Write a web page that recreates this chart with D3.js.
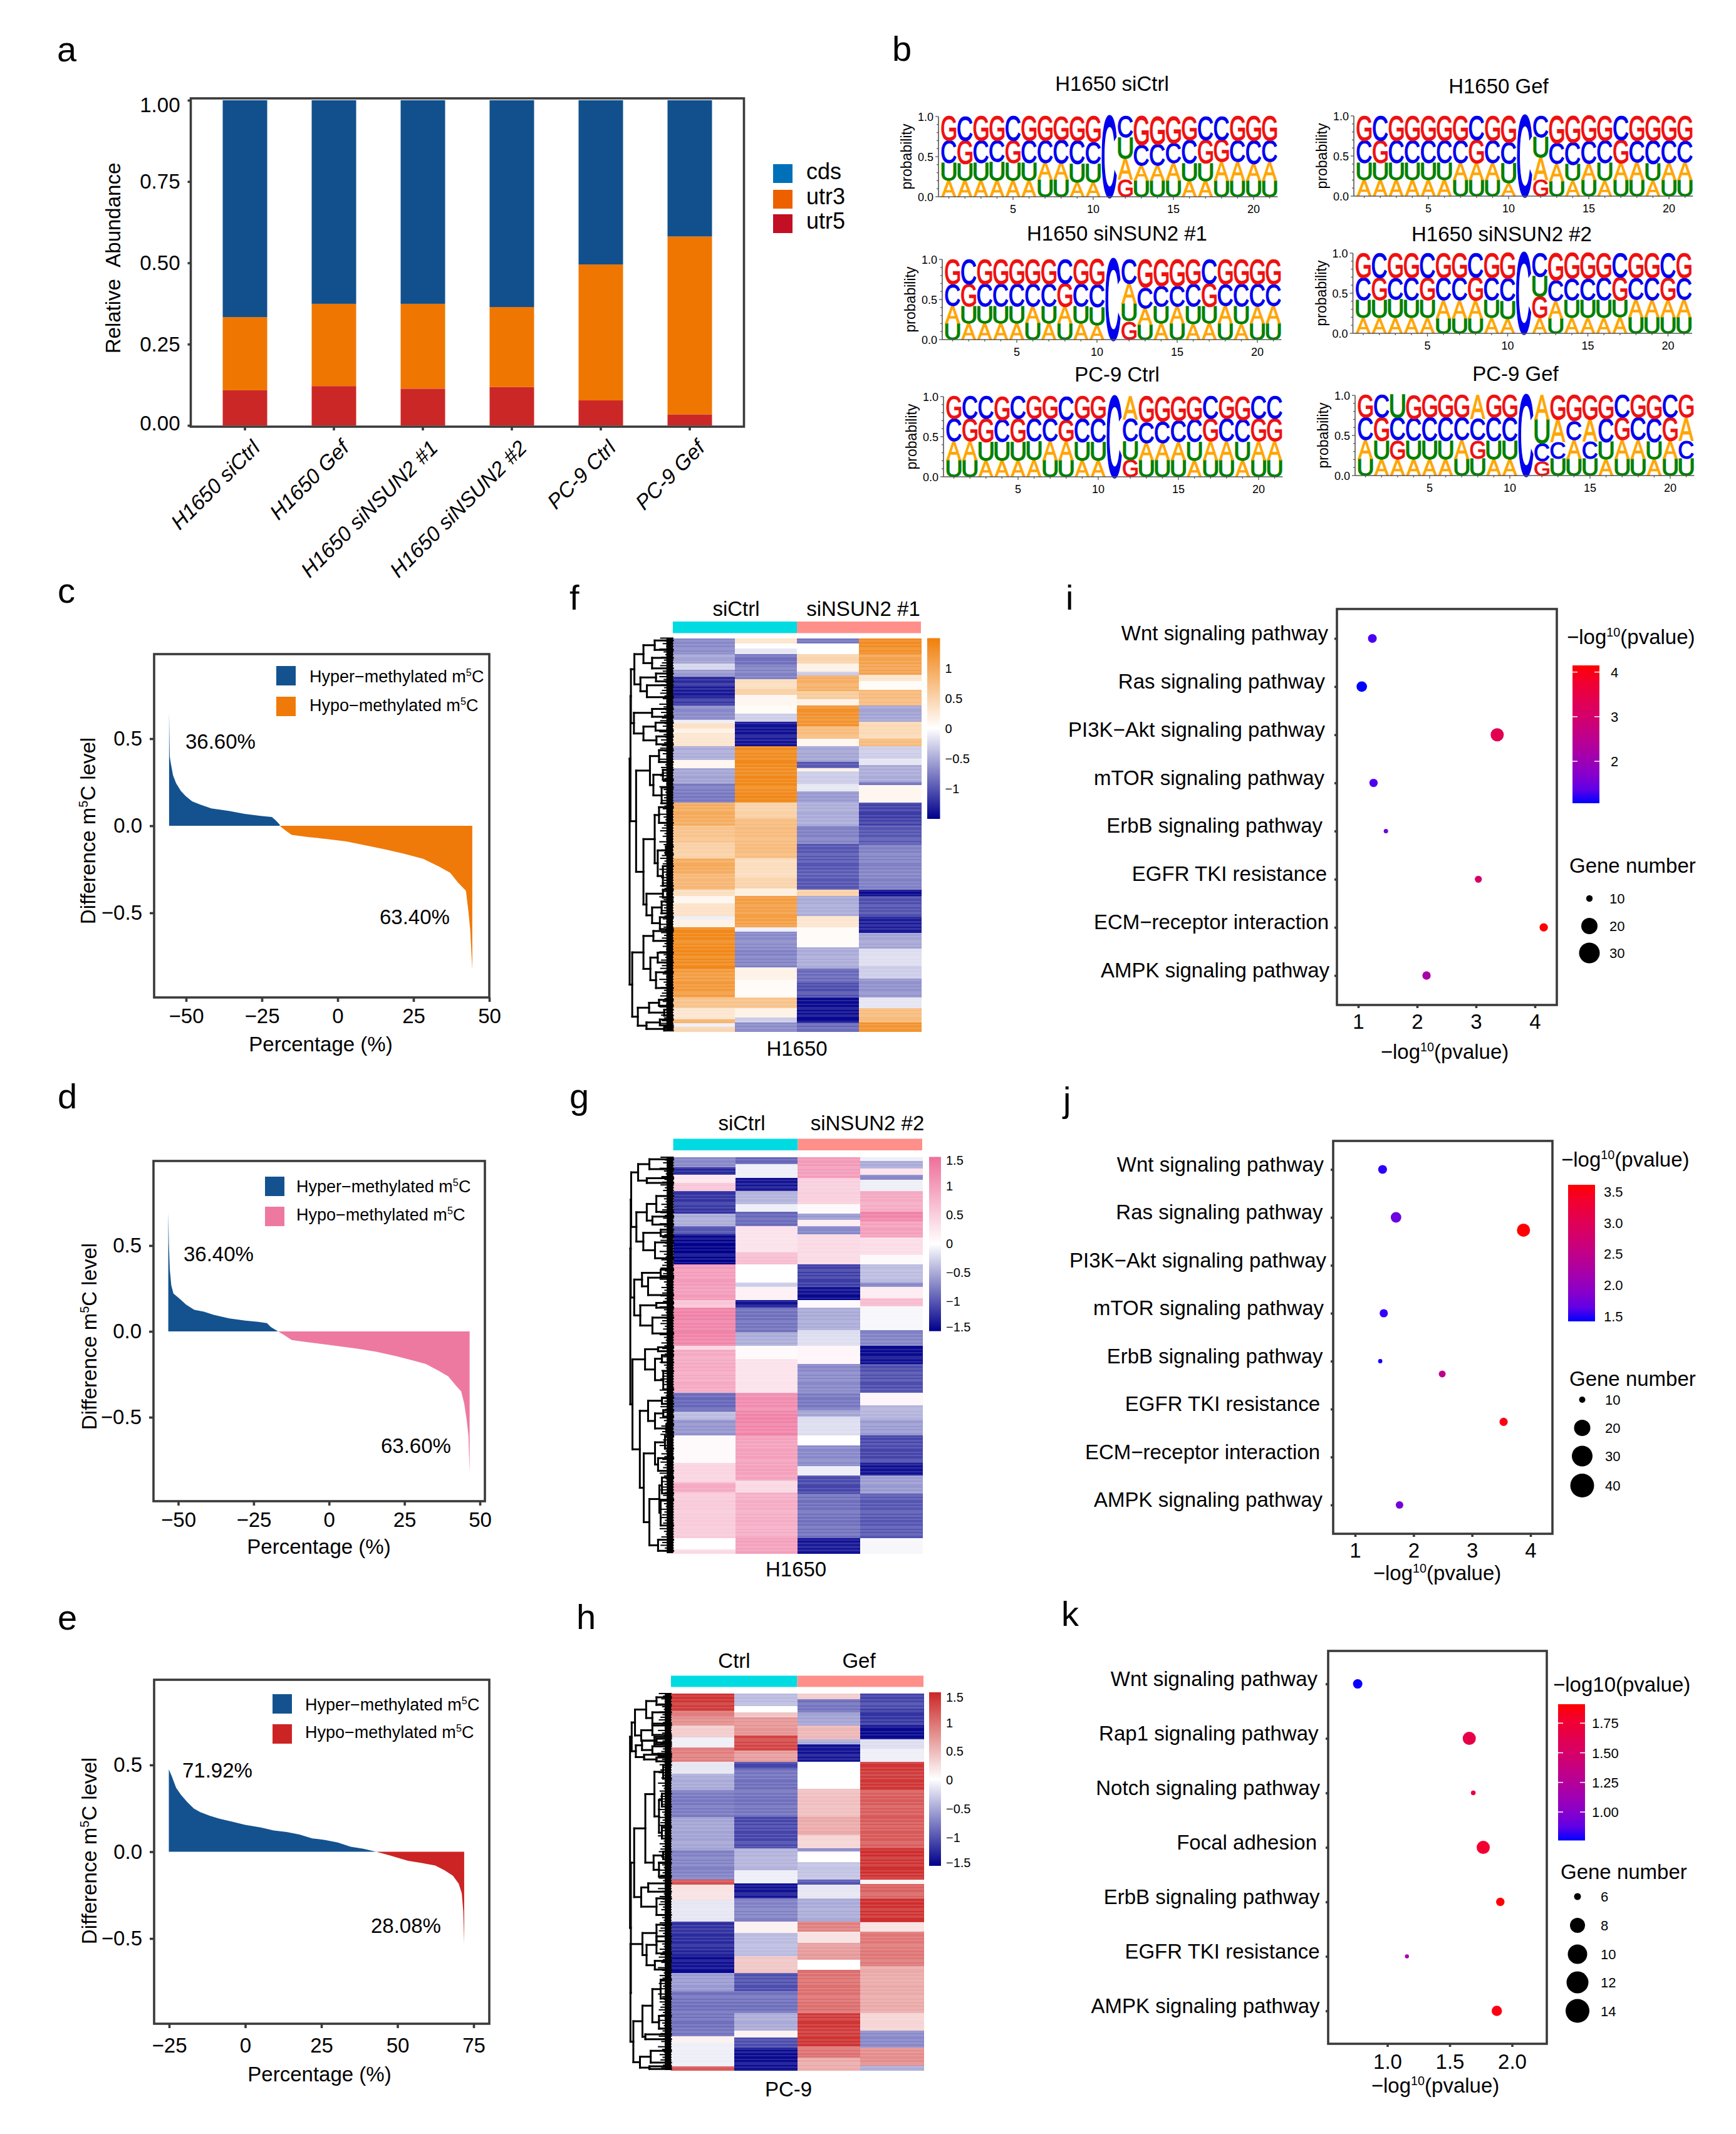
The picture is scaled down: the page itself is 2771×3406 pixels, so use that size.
<!DOCTYPE html>
<html>
<head>
<meta charset="utf-8">
<script src="https://d3js.org/d3.v7.min.js"></script>
<style>
  body { margin: 0; background: #fff; }
  text { font-family: "Liberation Sans", Arial, sans-serif; fill: #000; }
</style>
</head>
<body>
<svg id="fig" width="2771" height="3406"></svg>
<script>
// a: stacked bars
const samples = ["H1650 siCtrl", "H1650 Gef", "H1650 siNSUN2 #1", "H1650 siNSUN2 #2", "PC-9 Ctrl", "PC-9 Gef"];
const utr5 = [0.108, 0.121, 0.113, 0.118, 0.077, 0.034];
const utr3 = [0.225, 0.253, 0.261, 0.246, 0.418, 0.547];
const cds = [0.667, 0.626, 0.626, 0.636, 0.505, 0.419];

// b: sequence logos, letters from the bottom of the stack up, b1..b3 are the stack boundaries
const logoTitles = ["H1650 siCtrl", "H1650 Gef", "H1650 siNSUN2 #1", "H1650 siNSUN2 #2", "PC-9 Ctrl", "PC-9 Gef"];
const logoRows = [
  ["AAAAAAUUAA-GUUUAAUUUU", "UUUUUUAAUU-AAAAUUAAAA", "CGCCGCCCCC-UCCCCGGCCC", "GCGGCGGGGGCCGGGGCCGGG"],
  ["AAAAAAUUUA-GUAUAUUAUU", "UUUUUUAAAU-AAUAUAAUAA", "CGCCCCCGCC-UCCCCGCCCC", "GCGGGGGCGGCCGGGGCGGGG"],
  ["UAAAAUAUAA-GUAUAAUAUU", "AUUUUAUAUU-UAUAUUAUAA", "CGCCCCCGCC-ACCCCGCCCC", "GCGGGGGCGGCCGGGGCGGGG"],
  ["AAAAAUUUAA-AUAAAAUUUU", "UUUUUAAAUU-GAUUUUAAAA", "CGCCGCCGCC-UCCCCGCCGC", "GCGGCGGCGGCCGGGGCGGCG"],
  ["UUAAAAUUAA-GUUUAUUAUU", "AAUUUUAAUU-UAAAUAAUAA", "CGGCGCCGCC-CCCCCGCCGG", "GCCGCGGCGGCAGGGGCGGCC"],
  ["UAAAAAUUAA-GUUUAUUAUU", "AUGUUUAGUU-CCACUAAUAC", "CGCCCCCCCC-UACACGCCGA", "GCUGGGGAGGCAGGGGCGGCG"]
];
const logoB1 = [
  [.2,.2,.2,.2,.2,.2,.215,.215,.18,.18,0,.215,.2,.2,.2,.195,.195,.2,.2,.2,.2],
  [.2,.2,.2,.2,.2,.2,.2,.2,.2,.16,0,.2,.19,.19,.2,.19,.2,.2,.19,.2,.2],
  [.2,.2,.2,.2,.2,.21,.2,.2,.2,.18,0,.23,.19,.2,.2,.19,.2,.2,.19,.2,.2],
  [.19,.19,.19,.19,.19,.19,.19,.19,.19,.18,0,.19,.19,.19,.19,.19,.2,.2,.2,.2,.2],
  [.21,.21,.2,.2,.2,.21,.21,.21,.2,.2,0,.21,.21,.21,.21,.2,.21,.21,.2,.21,.21],
  [.21,.2,.2,.2,.2,.2,.21,.21,.2,.2,0,.175,.21,.21,.21,.2,.21,.21,.2,.21,.21]
];
const logoB2 = [
  [.42,.41,.42,.43,.42,.42,.42,.42,.41,.41,0,.475,.39,.385,.42,.42,.42,.43,.43,.41,.43],
  [.41,.41,.41,.41,.41,.41,.41,.41,.41,.4,0,.48,.4,.39,.4,.41,.41,.42,.4,.41,.42],
  [.42,.41,.41,.41,.41,.41,.41,.41,.41,.4,0,.45,.39,.41,.41,.41,.41,.42,.41,.41,.42],
  [.41,.41,.42,.41,.41,.41,.41,.41,.41,.4,0,.46,.4,.41,.41,.41,.41,.42,.41,.41,.42],
  [.44,.44,.43,.43,.43,.44,.44,.44,.43,.43,0,.44,.42,.42,.43,.43,.44,.44,.43,.44,.44],
  [.44,.43,.44,.43,.43,.43,.44,.44,.43,.43,0,.4,.42,.44,.43,.42,.44,.44,.42,.43,.44]
];
const logoB3 = [
  [.695,.7,.695,.695,.695,.695,.695,.71,.7,.68,0,.735,.645,.655,.67,.71,.71,.71,.695,.695,.695],
  [.69,.69,.69,.69,.69,.69,.69,.7,.69,.67,0,.73,.66,.67,.68,.69,.7,.69,.69,.69,.69],
  [.69,.69,.69,.69,.69,.69,.69,.7,.69,.68,0,.7,.65,.67,.67,.69,.7,.69,.69,.69,.69],
  [.69,.69,.69,.69,.69,.69,.69,.7,.69,.68,0,.71,.66,.68,.68,.69,.7,.69,.69,.69,.69],
  [.72,.72,.72,.71,.72,.72,.72,.71,.72,.72,0,.72,.68,.69,.7,.71,.72,.72,.71,.72,.72],
  [.72,.72,.72,.71,.72,.72,.72,.71,.72,.72,0,.7,.7,.68,.7,.71,.72,.72,.71,.72,.72]
];

// c, d, e: ranked difference curves [percentage, difference]
const cHyper = [[-55.6,.651],[-55.4,.40],[-55.1,.365],[-54.3,.29],[-53.3,.245],[-51.7,.2],[-50.1,.17],[-48,.14],[-45.4,.122],[-41.7,.10],[-35.9,.085],[-30.7,.068],[-25.4,.057],[-21.7,.05],[-20.4,.031],[-19.1,.006]];
const cHypo = [[-18.9,-.004],[-17,-.03],[-15.2,-.052],[-9.7,-.065],[-3.4,-.076],[2.9,-.09],[9.2,-.112],[15.5,-.135],[21.8,-.16],[28.2,-.19],[33.4,-.234],[37.1,-.27],[39.7,-.326],[42.3,-.373],[43.1,-.49],[43.7,-.594],[44.4,-.828]];
const dHyper = [[-53.3,.695],[-53.1,.51],[-52.8,.36],[-52.3,.268],[-51.6,.221],[-49.5,.19],[-47.4,.156],[-44.7,.126],[-41.5,.115],[-38.3,.097],[-33.1,.076],[-27.8,.063],[-23.5,.056],[-20.6,.048],[-19.3,.026],[-16.9,0]];
const dHypo = [[-16.9,0],[-15,-.02],[-12.4,-.05],[-8.7,-.059],[-3.4,-.071],[3,-.086],[9.3,-.10],[15.7,-.119],[22,-.143],[27.3,-.167],[32.1,-.19],[36.3,-.229],[39.5,-.262],[42.2,-.318],[43.8,-.349],[44.8,-.42],[45.6,-.513],[46.2,-.606],[46.6,-.82]];
const eHyper = [[-25.1,.475],[-24.1,.433],[-22.7,.368],[-21.1,.328],[-19,.285],[-16.9,.249],[-14.8,.228],[-11.7,.208],[-8.5,.19],[-4.3,.173],[-.1,.155],[5.1,.14],[9.3,.123],[13.6,.114],[17.8,.099],[22,.077],[26.2,.068],[30.4,.053],[34.6,.029],[38.8,.017],[43,0]];
const eHypo = [[43,0],[47.2,-.02],[53.5,-.052],[57.7,-.064],[62.4,-.079],[65.5,-.107],[68.2,-.138],[70.1,-.184],[71.1,-.239],[71.6,-.341],[71.9,-.53]];

// f, g, h: heatmap columns as runs of [end row %, z-score]
const fCols = [
  [[4,-.7],[6.5,-.55],[8,-.25],[9.8,-.6],[12,-1.25],[15,-1.35],[17.2,-1.2],[20.8,-.7],[21.6,-.1],[23,.35],[24.2,.15],[27.5,.3],[31,-.5],[33,.1],[37,-.55],[41.8,-.8],[47.7,1.0],[52,.7],[56,.55],[60,1.0],[64,.85],[65.6,.4],[67.5,.1],[70.7,.35],[71.6,-.1],[73.5,.15],[84,1.4],[91.4,1.2],[94.1,.7],[97,.3],[97.9,.9],[98.9,-.1],[100,.5]],
  [[1.3,.3],[2.7,0],[4.1,-.15],[7,-.85],[10.5,-.75],[12.8,.4],[14.4,.55],[17.2,.1],[19.2,.05],[21.2,-.3],[27.5,-1.4],[41.8,1.4],[45.8,.55],[56,.8],[60.8,.4],[63.6,.5],[65.6,.2],[73.5,1.15],[74.7,-.1],[79.5,-.7],[83.8,-.75],[87,.15],[91.4,.05],[94.1,.7],[96.5,.15],[97.7,-.3],[100,-.7]],
  [[1.3,-.8],[4.1,0],[6.5,.5],[8.5,.15],[9.5,-.3],[13.5,.95],[15.6,.6],[17.2,.15],[22.4,1.3],[25.5,.8],[27.5,.1],[31.5,-.55],[33,-1],[33.8,.15],[37,-.3],[39,-.15],[41.8,-.6],[47.7,-.5],[52.3,-.75],[64,-1],[65.6,.55],[70.7,-.5],[73.5,.3],[78.7,.05],[84,-.5],[87.8,-.9],[91.4,-1.05],[97.7,-1.45],[100,-.9]],
  [[4.1,1.35],[9.3,1.1],[10.9,.3],[13.2,.05],[17.2,.8],[21.2,-.55],[25.5,.45],[27.5,.8],[30.7,-.3],[32.3,-.15],[36.6,-.5],[37.4,-.8],[41.8,.1],[47.7,-1.15],[52.5,-1],[64,-.75],[65.6,-1.5],[71,-1.05],[75,-1.35],[79,-.55],[83.4,-.2],[86.6,-.3],[91.4,-.65],[94.1,-.15],[97.7,.8],[100,1.3]]
];
const gCols = [
  [[2.5,-.7],[4.5,-1.3],[6.5,.25],[8.6,.6],[14.2,-1.2],[17.4,-.5],[19.5,-1],[27.1,-1.5],[36,1.05],[37.9,.6],[47.6,1.3],[48.5,.4],[59.5,.9],[64.3,-.9],[66.3,-.4],[70.2,-.65],[77.2,.05],[82.1,.45],[84.7,.9],[96.2,.55],[99,0],[100,.4]],
  [[1.7,-.9],[5.3,-.1],[8.6,-1.4],[11.8,-.45],[13.8,-.1],[17.4,-.9],[19.5,.3],[24,.3],[27.1,.7],[31.6,0],[32.8,-.3],[36,.15],[37.9,-1.4],[44.1,-.85],[47.6,-.5],[51,.05],[59.5,.3],[63.9,1.2],[70.2,1.3],[81.7,1.0],[84.7,.4],[96.2,.85],[100,1.0]],
  [[5.3,1.05],[11.8,.5],[14.2,.05],[15.8,-.6],[17.4,.2],[19.5,-.7],[27.1,.4],[32.8,-1.15],[36,-1.45],[37.9,.05],[43.7,-.5],[47.6,-.2],[52.2,.1],[59.5,-.7],[63.9,-.8],[65.5,-.55],[70.3,-.2],[72.8,0],[78,-.7],[80.4,-.1],[84.9,-1.1],[96.2,-.85],[100,-1.4]],
  [[1,-.1],[2.9,-.5],[4.5,.3],[5.7,-.7],[8.6,-.1],[13.8,.9],[16.2,1.3],[20.3,1.0],[24.7,.35],[27.1,.05],[31.6,-.4],[32.8,-.7],[35.6,.2],[37.6,.7],[43.7,-.05],[47.6,-.75],[52.2,-1.45],[59.5,-1.05],[62.7,.1],[66.3,-.45],[70.2,-.6],[77.2,-1.1],[80.4,-1.4],[84.9,-.6],[96.2,-1.0],[100,-.05]]
];
const hCols = [
  [[4.6,1.4],[6.2,.9],[8.5,.8],[11.6,.35],[14.3,-.1],[18.2,.9],[21.3,-.15],[25.7,-.5],[32.8,-.8],[41.6,-.55],[49.5,-.75],[50.8,1.2],[54.8,.2],[60.5,-.15],[66.3,-1.25],[69.8,-1.3],[74.2,-1.45],[79,-.6],[85.6,-.85],[91,-.85],[92.7,.1],[99,-.1],[100,1.2]],
  [[3.3,-.4],[5,0],[6.3,.4],[11.2,.75],[15.2,1.3],[18.2,.7],[20,-1.1],[27.5,-.85],[32.8,-.85],[41.1,-1.1],[46.9,-.45],[50.4,-.1],[54.4,-1.4],[60.5,-.75],[63.6,.1],[69.8,-.4],[74.2,.4],[79,-1.05],[84.8,-.85],[89.6,-.5],[91.4,.1],[94,-1.05],[100,-1.45]],
  [[1.5,.35],[5,-.85],[8.5,-.55],[12.1,.5],[13.4,-.5],[18.2,-1.4],[25.3,0],[32.8,.45],[37.6,.6],[41.1,.3],[42,-.7],[44.7,0],[49.5,-.35],[50.8,-1],[54.4,-.15],[60.5,-.5],[63.2,.9],[66.3,.2],[70.7,.7],[73.3,0],[84.8,1.0],[93.6,1.4],[96.6,1.0],[100,.6]],
  [[4.1,-1.1],[8.5,-1.2],[12.1,-1.45],[14.7,-.2],[18.2,-.1],[25.7,1.4],[41.1,1.15],[49.5,1.45],[50.6,.1],[54.4,1.1],[60.8,1.45],[63.2,.2],[72.4,.95],[84.8,.6],[89.6,.3],[94,-.7],[98.9,.8],[100,-.5]]
];

// f, g, h: dendrograms as nested merges [height, child, child], a bare number is a leaf at row %
const fTree = [100,
  [98,
    [97,
      [89, [68,[42,.6,3],[48,5,7.7]], [75,[39,9,11],[60,12,15]]],
      [90, [48,18,20], [68,[40,21.5,23.5],[38,25,27]]]],
    [85,
      [53,[32,28.5,31.5],[45,[23,33.5,36],[26,38,42]]],
      [68, [42,[32,43,47],[35,[16,53,55],[23,58,63]]], [61,[23,64,66],[48,[26,67,70],[30,71,74]]]]]],
  [94,
    [68,[45,74.5,77],[52,[35,80,82.5],[39,85,89]]],
    [81,[55,[32,92,93.5],[20,94.5,96]],[61,[30,97,98.5],[20,99,99.8]]]]];
const gTree = [99,
  [98,
    [97,
      [81,[55,.5,3],[61,5.3,6.5]],
      [85,[61,[39,9.8,13.8],[48,15,17]],[69,[29,18.3,19.9],[42,21.5,25.5]]]],
    [90,
      [72,[29,28.4,30],[58,30.4,34.8]],
      [76,[39,36.8,38],[48,40.5,44.5]]]],
  [94,
    [65,[35,48,49],[42,[26,50,51.8],[23,54,58.6]]],
    [77,
      [58,[26,60.7,62.3],[42,[23,63.9,65.5],[16,67.5,69.5]]],
      [68,[42,[19,70.4,73.6],[35,76,79.2]],[55,[32,[26,80.9,84.9],[29,86.5,93]],[35,96.6,99.4]]]]]];
const hTree = [99,
  [95,
    [87,[60,[35,1,3],[45,5,8]],[72,[45,8.5,11],[40,11.5,13.5]]],
    [85,[70,[35,12,13],[45,14,16]],[65,[30,16,16.5],[35,17,18]]]],
  [97,
    [89,
      [62,[40,[19,19,22.6],[29,[22,26.6,30],[22,35.4,38.5]]],[42,[19,42,44],[29,45,48.6]]],
      [72,[55,50.4,52.6],[35,54.4,58.8]]],
    [98,
      [69,[35,61.4,65.8],[59,[35,64.5,69],[39,71,73.3]]],
      [91,[69,[45,[25,76,81],[29,85.6,89]],[62,90.5,91.8]],[75,[49,94.9,98],[52,99,99.7]]]]]];

// i, j, k: pathway enrichment
const iPathways = ["Wnt signaling pathway", "Ras signaling pathway", "PI3K\u2212Akt signaling pathway", "mTOR signaling pathway", "ErbB signaling pathway", "EGFR TKI resistance", "ECM\u2212receptor interaction", "AMPK signaling pathway"];
const iLogP = [1.24, 1.06, 3.36, 1.26, 1.47, 3.04, 4.15, 2.16];
const iGenes = [20, 24, 30, 19, 10, 16, 19, 19];
const iRows = [0, 1, 2, 3, 4, 5, 6, 7];
const jLogP = [1.47, 1.70, 3.88, 1.49, 1.43, 2.49, 3.54, 1.76];
const jGenes = [27, 32, 40, 25, 13, 21, 25, 23];
const jRows = [0, 1, 1.267, 3, 4, 4.267, 5.267, 7];
const kPathways = ["Wnt signaling pathway", "Rap1 signaling pathway", "Notch signaling pathway", "Focal adhesion", "ErbB signaling pathway", "EGFR TKI resistance", "AMPK signaling pathway"];
const kLogP = [.762, 1.657, 1.689, 1.769, 1.906, 1.157, 1.878];
const kGenes = [10, 14, 5, 14, 9, 4.3, 11];
const kRows = [0, 1, 2, 3, 4, 5, 6];

const DARK = "#3a3a3a";
const BLUE = "#14528f";
const MINUS = "\u2212";
const svg = d3.select("#fig");

function label(g, x, y, txt, size, anchor = "start") {
  return g.append("text").attr("x", x).attr("y", y).attr("font-size", size).attr("text-anchor", anchor).text(txt);
}

// text with one superscript in the middle
function supLabel(g, x, y, before, sup, after, size, anchor = "start") {
  const t = label(g, x, y, before, size, anchor);
  t.append("tspan").attr("dy", -size * 0.36).attr("font-size", size * 0.6).text(sup);
  t.append("tspan").attr("dy", size * 0.36).text(after);
  return t;
}

function frame(g, x0, y0, x1, y1) {
  g.append("rect").attr("x", x0).attr("y", y0).attr("width", x1 - x0).attr("height", y1 - y0)
    .attr("fill", "none").attr("stroke", DARK).attr("stroke-width", 3.6);
}

function styleAxis(sel, size) {
  sel.select(".domain").remove();
  sel.selectAll(".tick line").attr("stroke", DARK).attr("stroke-width", 3.6);
  sel.selectAll("text").attr("font-size", size).attr("font-family", '"Liberation Sans"').attr("fill", "#000");
}

[["a",91,98],["b",1424,97],["c",92,962],["d",92,1769],["e",92,2601],["f",909,973],["g",909,1769],["h",920,2600],["i",1701,973],["j",1697,1774],["k",1694,2595]]
  .forEach(d => label(svg, d[1], d[2], d[0], 56));

/* ---------- a ---------- */
function drawBars() {
  const g = svg.append("g");
  const x = d3.scaleBand().domain(samples).range([320, 1172]).paddingInner(0.5).paddingOuter(0.25);
  const y = d3.scaleLinear().domain([0, 1]).range([679, 160]);
  const rows = samples.map((s, i) => ({ s, utr5: utr5[i], utr3: utr3[i], cds: cds[i] }));
  const keys = ["utr5", "utr3", "cds"];
  const colors = { utr5: "#cc2727", utr3: "#ef7601", cds: "#11508c" };
  g.selectAll("g.layer").data(d3.stack().keys(keys)(rows)).join("g").attr("class", "layer")
    .attr("fill", d => colors[d.key])
    .selectAll("rect").data(d => d).join("rect")
    .attr("x", d => x(d.data.s)).attr("width", x.bandwidth())
    .attr("y", d => y(d[1])).attr("height", d => y(d[0]) - y(d[1]));
  frame(g, 304.5, 157, 1187.5, 681);

  const xa = g.append("g").attr("transform", "translate(0,681)").call(d3.axisBottom(x).tickSize(6));
  styleAxis(xa, 33.5);
  xa.selectAll("text").attr("font-style", "italic").attr("text-anchor", "end").attr("dy", 0).attr("y", 0)
    .attr("transform", "translate(26,36) rotate(-45)");

  const ya = g.append("g").attr("transform", "translate(304.5,0)")
    .call(d3.axisLeft(y).tickValues([0, .25, .5, .75, 1]).tickSize(5).tickPadding(12).tickFormat(d3.format(".2f")));
  styleAxis(ya, 33);
  const nudge = { 0: -4, 1: 7 };
  ya.selectAll("text").attr("dy", d => (nudge[d] || 0) + 11);

  label(g, 0, 0, "Relative\u00a0\u00a0Abundance", 33, "middle").attr("transform", "translate(192,412) rotate(-90)");
  [["cds", "#0070b8", 262, 286], ["utr3", "#ed6000", 303, 326], ["utr5", "#c30f23", 342, 365]].forEach(d => {
    g.append("rect").attr("x", 1234).attr("y", d[2]).attr("width", 31).attr("height", 30).attr("fill", d[1]);
    label(g, 1287, d[3], d[0], 36);
  });
}
drawBars();

/* ---------- b ---------- */
const letterColor = { G: "#ee1111", C: "#0000ee", U: "#008000", A: "#ffa500" };
const measure = document.createElement("canvas").getContext("2d");
measure.font = '100px "Liberation Sans"';

function drawLogo(i, x5, y1) {
  const g = svg.append("g");
  const step = 25.6;
  const x = d3.scaleLinear().domain([5, 20]).range([x5, x5 + 15 * step]);
  const y = d3.scaleLinear().domain([0, 1]).range([y1 + 128, y1]);
  const ax = x5 - 119;
  d3.range(21).forEach(p => {
    const b1 = logoB1[i][p], b2 = logoB2[i][p], b3 = logoB3[i][p];
    const stops = [[0, b1], [b1, b2], [b2, b3], [b3, 1]];
    logoRows[i].forEach((row, r) => {
      const ch = row[p];
      if (ch === "-") return;
      const m = measure.measureText(ch);
      const w = m.actualBoundingBoxLeft + m.actualBoundingBoxRight;
      const h = m.actualBoundingBoxAscent + m.actualBoundingBoxDescent;
      const top = y(stops[r][1]), bot = y(stops[r][0]);
      const bw = step * 0.9;
      const left = x(p + 1) - bw / 2;
      const sx = bw / w, sy = (bot - top) / h;
      g.append("text").attr("font-size", 100)
        .attr("transform", `translate(${left + m.actualBoundingBoxLeft * sx},${bot - m.actualBoundingBoxDescent * sy}) scale(${sx},${sy})`)
        .style("fill", letterColor[ch]).style("stroke", letterColor[ch]).style("stroke-width", 3).text(ch);
    });
  });
  const xa = g.append("g").attr("transform", `translate(0,${y1 + 128})`);
  xa.append("line").attr("x1", ax).attr("x2", x(21.5)).attr("stroke", "#555").attr("stroke-width", 1.6);
  xa.selectAll("line.minor").data(d3.range(1, 22)).join("line").attr("class", "minor")
    .attr("x1", d => x(d)).attr("x2", d => x(d)).attr("y2", d => d % 5 ? 3 : 5).attr("stroke", "#555").attr("stroke-width", 1.3);
  xa.selectAll("text").data([5, 10, 15, 20]).join("text").attr("x", d => x(d)).attr("y", 26)
    .attr("text-anchor", "middle").attr("font-size", 18).text(d => d);
  const ya = g.append("g").attr("transform", `translate(${ax},0)`);
  ya.append("line").attr("y1", y(0)).attr("y2", y(1)).attr("stroke", "#555").attr("stroke-width", 1.6);
  ya.selectAll("line.t").data(d3.range(0, 11)).join("line").attr("class", "t")
    .attr("y1", d => y(d / 10)).attr("y2", d => y(d / 10)).attr("x2", d => d % 5 ? -3 : -5).attr("stroke", "#555").attr("stroke-width", 1.3);
  ya.selectAll("text").data([0, 0.5, 1]).join("text").attr("x", -8).attr("y", d => y(d) + 7)
    .attr("text-anchor", "end").attr("font-size", 18).text(d => d3.format(".1f")(d));
  label(g, 0, 0, "probability", 23, "middle").attr("transform", `translate(${ax - 43},${y1 + 64}) rotate(-90)`);
}
const logoX5 = [1617, 2280, 1623, 2278.5, 1625, 2282];
const logoY1 = [186, 185, 414, 404, 633, 631];
logoTitles.forEach((t, i) => drawLogo(i, logoX5[i], logoY1[i]));
[[1775, 145], [2392, 149], [1783, 384], [2397, 385], [1783, 609], [2419, 608]]
  .forEach((p, i) => label(svg, p[0], p[1], logoTitles[i], 33, "middle"));

/* ---------- c d e ---------- */
function drawRank(o) {
  const g = svg.append("g");
  const x = d3.scaleLinear().domain(o.xDomain).range(o.xRange);
  const y = d3.scaleLinear().domain([-.5, .5]).range(o.yRange);
  const area = d3.area().x(d => x(d[0])).y0(y(0)).y1(d => y(d[1]));
  g.append("path").attr("d", area(o.hyper)).attr("fill", BLUE);
  g.append("path").attr("d", area(o.hypo)).attr("fill", o.color);
  frame(g, o.box[0], o.box[1], o.box[2], o.box[3]);
  const xa = g.append("g").attr("transform", `translate(0,${o.box[3]})`)
    .call(d3.axisBottom(x).tickValues(o.xTicks).tickSize(7).tickPadding(o.xPad).tickFormat(d3.format("d")));
  styleAxis(xa, 33);
  const ya = g.append("g").attr("transform", `translate(${o.box[0]},0)`)
    .call(d3.axisLeft(y).tickValues([-.5, 0, .5]).tickSize(7).tickPadding(12).tickFormat(d3.format(".1f")));
  styleAxis(ya, 33);
  label(g, o.xTitle[0], o.xTitle[1], "Percentage (%)", 33, "middle");
  supLabel(g, 0, 0, "Difference m", "5", "C level", 33, "middle")
    .attr("transform", `translate(${o.yTitle[0]},${o.yTitle[1]}) rotate(-90)`);
  const lg = [["Hyper\u2212methylated m", BLUE], ["Hypo\u2212methylated m", o.color]];
  lg.forEach((d, i) => {
    g.append("rect").attr("x", o.swatchX).attr("y", o.swatchY[i]).attr("width", 31).attr("height", 31).attr("fill", d[1]);
    supLabel(g, o.lgX, o.lgY[i], d[0], "5", "C", 27);
  });
  label(g, o.note1[0], o.note1[1], o.note1[2], 33);
  label(g, o.note2[0], o.note2[1], o.note2[2], 33);
}
drawRank({ hyper: cHyper, hypo: cHypo, color: "#ef7a0a", xDomain: [-50, 50], xRange: [297, 781], yRange: [1457, 1179], box: [246, 1044, 781, 1592],
  xTicks: [-50, -25, 0, 25, 50], xPad: 11, xTitle: [512, 1678], yTitle: [152, 1326], swatchX: 441, swatchY: [1063, 1112], lgX: 494, lgY: [1089, 1135],
  note1: [296, 1195, "36.60%"], note2: [606, 1475, "63.40%"] });
drawRank({ hyper: dHyper, hypo: dHypo, color: "#ee79a0", xDomain: [-50, 50], xRange: [284.5, 766], yRange: [2262, 1988], box: [245, 1853, 774, 2396],
  xTicks: [-50, -25, 0, 25, 50], xPad: 11, xTitle: [509, 2480], yTitle: [154, 2133], swatchX: 423, swatchY: [1878, 1926], lgX: 473, lgY: [1903, 1948],
  note1: [293, 2013, "36.40%"], note2: [608, 2319, "63.60%"] });
drawRank({ hyper: eHyper, hypo: eHypo, color: "#cc2424", xDomain: [-25, 75], xRange: [270, 756], yRange: [3094, 2817], box: [246, 2681, 781, 3230],
  xTicks: [-25, 0, 25, 50, 75], xPad: 16, xTitle: [510, 3322], yTitle: [154, 2954], swatchX: 435, swatchY: [2704, 2752], lgX: 487, lgY: [2730, 2774],
  note1: [291, 2837, "71.92%"], note2: [592, 3085, "28.08%"] });

/* ---------- f g h ---------- */
const twigs = [28, 18, 22, 14, 30, 20, 16, 26, 19, 24];
const stripeHeights = [3, 2, 4, 2, 3, 5, 2, 3, 2, 4, 6, 2, 3];

function drawTree(g, tree, xr, yr) {
  const x = d3.scaleLinear().domain([0, 100]).range(xr);
  const y = d3.scaleLinear().domain([0, 100]).range(yr);
  const seg = (x1, y1, x2, y2, w = 3) => g.append("line").attr("x1", x1).attr("y1", y1).attr("x2", x2).attr("y2", y2)
    .attr("stroke", "#000").attr("stroke-width", w).attr("stroke-linecap", "square");
  function walk(node) {
    if (typeof node === "number") return { y: y(node), h: 0 };
    const a = walk(node[1]), b = walk(node[2]);
    const hx = x(node[0]);
    seg(hx, a.y, hx, b.y);
    seg(hx, a.y, x(a.h), a.y);
    seg(hx, b.y, x(b.h), b.y);
    return { y: (a.y + b.y) / 2, h: node[0] };
  }
  walk(tree);
  g.append("rect").attr("x", x(15)).attr("y", y(0)).attr("width", x(0) - x(15)).attr("height", y(100) - y(0)).attr("fill", "#000");
  d3.range(0, 100, 0.7).forEach((r, i) => seg(x(twigs[i % twigs.length]), y(r), x(0), y(r), 2));
}

function drawHeat(o) {
  const g = svg.append("g");
  const x = d3.scaleBand().domain(d3.range(4)).range(o.x);
  const y = d3.scaleLinear().domain([0, 100]).range(o.y);
  const color = d3.scaleLinear().domain([-1.5, 0, 1.5]).range(["#00008b", "#ffffff", o.high]).clamp(true);
  o.cols.forEach((col, c) => {
    let start = 0;
    col.forEach(run => {
      g.append("rect").attr("x", x(c)).attr("width", x.bandwidth() + 0.5)
        .attr("y", y(start)).attr("height", y(run[0]) - y(start) + 0.5)
        .attr("fill", color(run[1])).attr("shape-rendering", "crispEdges");
      start = run[0];
    });
  });
  // thin row streaks over the runs
  let sy = o.y[0], si = 0;
  while (sy < o.y[1]) {
    const h = stripeHeights[si % stripeHeights.length];
    if (si % 2) g.append("rect").attr("x", o.x[0]).attr("width", o.x[1] - o.x[0]).attr("y", sy)
      .attr("height", Math.min(h, o.y[1] - sy)).attr("fill", "#fff").attr("opacity", 0.13).attr("shape-rendering", "crispEdges");
    sy += h; si += 1;
  }
  const mid = x(2);
  g.append("rect").attr("x", o.x[0]).attr("y", o.anno[0]).attr("width", mid - o.x[0]).attr("height", o.anno[1] - o.anno[0]).attr("fill", "#00dbe2");
  g.append("rect").attr("x", mid).attr("y", o.anno[0]).attr("width", o.x[1] - mid).attr("height", o.anno[1] - o.anno[0]).attr("fill", "#ff8f8a");
  o.heads.forEach(h => label(g, h[0], h[1], h[2], 33, "middle"));
  label(g, o.foot[0], o.foot[1], o.foot[2], 33, "middle");
  drawTree(g, o.tree, [o.x[0], o.treeLeft], o.y);

  // colour key
  const id = "key" + o.foot[1];
  const grad = svg.append("defs").append("linearGradient").attr("id", id).attr("x1", 0).attr("x2", 0).attr("y1", 1).attr("y2", 0);
  [-1.5, 0, 1.5].forEach((v, i) => grad.append("stop").attr("offset", i / 2).attr("stop-color", color(v)));
  const ky = d3.scaleLinear().domain([0, 1]).range([o.keyZero, o.keyZero - o.keyUnit]);
  g.append("rect").attr("x", o.keyX).attr("y", o.keyY[0]).attr("width", o.keyW).attr("height", o.keyY[1] - o.keyY[0]).attr("fill", `url(#${id})`);
  o.keyTicks.forEach(v => {
    const pull = Math.abs(v) === 1.5 ? (v > 0 ? 5 : -5) : 0;
    label(g, o.keyX + o.keyW + 8, ky(v) + pull + 7, String(v).replace("-", MINUS), 20);
  });
}
drawHeat({ cols: fCols, high: "#f07f09", tree: fTree, x: [1074, 1470], y: [1018.5, 1646], treeLeft: 1005, anno: [992, 1010.5],
  heads: [[1175, 983, "siCtrl"], [1378, 983, "siNSUN2 #1"]], foot: [1272, 1685, "H1650"],
  keyX: 1480, keyW: 20.5, keyY: [1018.5, 1307], keyZero: 1163, keyUnit: 96, keyTicks: [1, .5, 0, -.5, -1] });
drawHeat({ cols: gCols, high: "#ee6f9b", tree: gTree, x: [1074.6, 1472], y: [1847, 2479], treeLeft: 1005.4, anno: [1817.5, 1836],
  heads: [[1184, 1804, "siCtrl"], [1384.5, 1804, "siNSUN2 #2"]], foot: [1270.6, 2516, "H1650"],
  keyX: 1483, keyW: 19, keyY: [1846.5, 2124.6], keyZero: 1985, keyUnit: 92, keyTicks: [1.5, 1, .5, 0, -.5, -1, -1.5] });
drawHeat({ cols: hCols, high: "#cc2727", tree: hTree, x: [1071, 1474], y: [2703, 3304], treeLeft: 1005, anno: [2674.5, 2692.5],
  heads: [[1172, 2662, "Ctrl"], [1371, 2662, "Gef"]], foot: [1258.6, 3346, "PC-9"],
  keyX: 1483, keyW: 19, keyY: [2701, 2978], keyZero: 2841, keyUnit: 91.5, keyTicks: [1.5, 1, .5, 0, -.5, -1, -1.5] });

/* ---------- i j k ---------- */
const blueRed = d3.interpolateLab("#0000ff", "#ff0000");

function drawDots(o) {
  const g = svg.append("g");
  const x = d3.scaleLinear().domain(o.xDomain).range(o.xRange);
  const y = d3.scaleLinear().domain([0, o.names.length - 1]).range(o.yRange);
  const t = d3.scaleLinear().domain(o.colorDomain).range([0, 1]).clamp(true);
  const r = d3.scaleLinear().domain([0, o.rMaxGenes]).range([0, 10.5]);
  frame(g, o.box[0], o.box[1], o.box[2], o.box[3]);
  const xa = g.append("g").attr("transform", `translate(0,${o.box[3]})`)
    .call(d3.axisBottom(x).tickValues(o.xTicks).tickSize(5).tickPadding(o.xPad).tickFormat(d3.format(o.xFormat)));
  styleAxis(xa, 33);
  const ya = g.append("g").attr("transform", `translate(${o.box[0]},0)`)
    .call(d3.axisLeft(y).tickValues(d3.range(o.names.length)).tickSize(4).tickFormat(""));
  styleAxis(ya, 33);
  g.selectAll("circle.dot").data(o.logP).join("circle").attr("class", "dot")
    .attr("cx", d => x(d)).attr("cy", (d, i) => y(o.rows[i]))
    .attr("r", (d, i) => r(o.genes[i])).attr("fill", d => blueRed(t(d)));
  o.names.forEach((n, i) => label(g, o.nameRight[i], y(i) + 3, n, 33, "end"));
  supLabel(g, o.xTitle[0], o.xTitle[1], MINUS + "log", "10", "(pvalue)", 33, "middle");

  if (o.plainKeyTitle) label(g, o.keyTitle[0], o.keyTitle[1], MINUS + "log10(pvalue)", 33);
  else supLabel(g, o.keyTitle[0], o.keyTitle[1], MINUS + "log", "10", "(pvalue)", 33);
  const id = "dots" + o.box[1];
  const grad = svg.append("defs").append("linearGradient").attr("id", id).attr("x1", 0).attr("x2", 0).attr("y1", 1).attr("y2", 0);
  d3.range(0, 11).forEach(s => grad.append("stop").attr("offset", s / 10).attr("stop-color", blueRed(s / 10)));
  g.append("rect").attr("x", o.keyX).attr("y", o.keyY[0]).attr("width", 43).attr("height", o.keyY[1] - o.keyY[0]).attr("fill", `url(#${id})`);
  const ky = d3.scaleLinear().domain(o.colorDomain).range([o.keyY[1], o.keyY[0]]);
  o.keyTicks.forEach(v => {
    if (o.keyMarks) [[o.keyX, o.keyX + 8], [o.keyX + 35, o.keyX + 43]].forEach(m =>
      g.append("line").attr("x1", m[0]).attr("x2", m[1]).attr("y1", ky(v)).attr("y2", ky(v)).attr("stroke", "#fff").attr("stroke-width", 1.5));
    label(g, o.keyLabelX, ky(v) + 8, d3.format(o.keyFormat)(v), 22);
  });

  label(g, o.geneTitle[0], o.geneTitle[1], "Gene number", 33);
  o.legend.forEach(d => {
    g.append("circle").attr("cx", o.legendX).attr("cy", d[1]).attr("r", d[2]).attr("fill", "#000");
    label(g, o.legendLabelX, d[1] + 8, d[0], 22);
  });
}
drawDots({ names: iPathways, logP: iLogP, genes: iGenes, rows: iRows, rMaxGenes: 30, xDomain: [1, 4], xRange: [2168, 2450], yRange: [1019, 1557],
  box: [2134, 972, 2485, 1604], xTicks: [1, 2, 3, 4], xPad: 10, xFormat: "d", xTitle: [2306, 1690], colorDomain: [1.06, 4.15],
  nameRight: [2120, 2115, 2115, 2114, 2111, 2118, 2121, 2122], keyTitle: [2501, 1028], keyX: 2510, keyY: [1062, 1282], keyTicks: [2, 3, 4], keyMarks: true, keyLabelX: 2571, keyFormat: "d",
  geneTitle: [2505, 1393], legendX: 2537, legendLabelX: 2569, legend: [[10, 1434, 5.2], [20, 1478, 13], [30, 1521, 16.5]] });
drawDots({ names: iPathways, logP: jLogP, genes: jGenes, rows: jRows, rMaxGenes: 40, xDomain: [1, 4], xRange: [2163, 2443], yRange: [1866.5, 2402],
  box: [2128, 1821, 2478, 2448], xTicks: [1, 2, 3, 4], xPad: 10, xFormat: "d", xTitle: [2294, 2522], colorDomain: [1.42, 3.61],
  nameRight: [2113, 2111.5, 2117, 2113, 2111.5, 2107, 2107, 2111], keyTitle: [2492, 1862], keyX: 2503, keyY: [1891, 2109], keyTicks: [1.5, 2, 2.5, 3, 3.5], keyMarks: false, keyLabelX: 2560, keyFormat: ".1f",
  geneTitle: [2505, 2212], legendX: 2525.5, legendLabelX: 2562, legend: [[10, 2234, 5], [20, 2279, 13], [30, 2324, 16.5], [40, 2371, 19]] });
drawDots({ names: kPathways, logP: kLogP, genes: kGenes, rows: kRows, rMaxGenes: 14, xDomain: [1, 2], xRange: [2214.5, 2413.5], yRange: [2687.6, 3209.5],
  box: [2120, 2635, 2469, 3262], xTicks: [1, 1.5, 2], xPad: 12, xFormat: ".1f", xTitle: [2291, 3340], colorDomain: [.76, 1.91],
  nameRight: [2103, 2104.5, 2107, 2102, 2106.6, 2106.6, 2106.6], keyTitle: [2479, 2700], plainKeyTitle: true, keyX: 2487, keyY: [2720, 2937.5], keyTicks: [1, 1.25, 1.5, 1.75], keyMarks: true, keyLabelX: 2541, keyFormat: ".2f",
  geneTitle: [2491, 2999], legendX: 2518, legendLabelX: 2555, legend: [[6, 3027, 5.5], [8, 3073, 12], [10, 3119, 15.5], [12, 3164, 17.5], [14, 3209.5, 19]] });
</script>
</body>
</html>
